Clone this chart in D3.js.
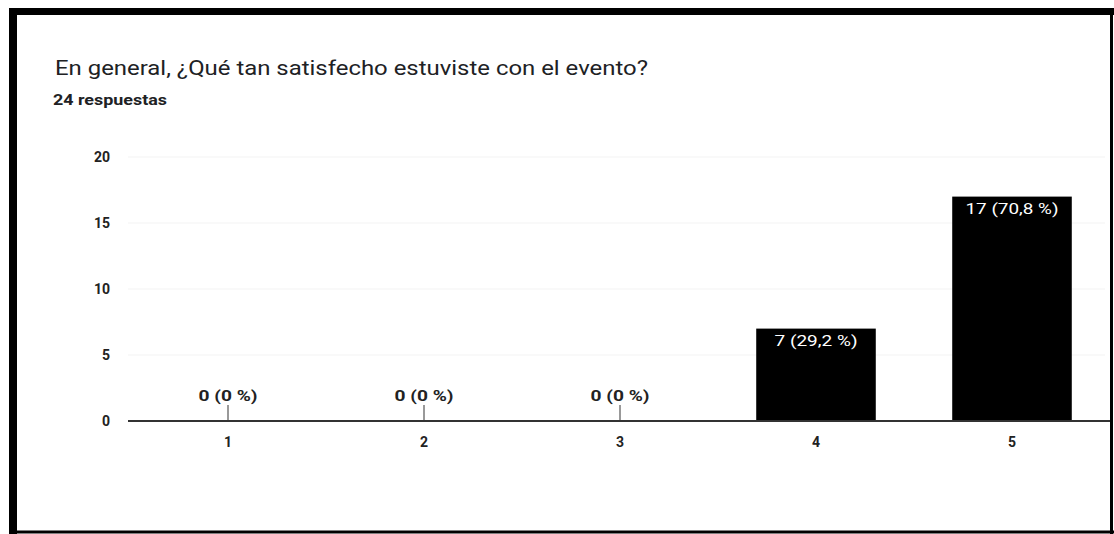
<!DOCTYPE html>
<html>
    <head>
        <meta charset="utf-8">
        <style>
        html, body {
            margin: 0px;
            background: #fff;
        }
        svg {
            display: block;
        }
        .axis text {
            font: bold 14px Roboto, sans-serif;
            fill: #222;
        }
        </style>
    </head>
    <body>
        <svg class="chart" width="1114" height="534"></svg>
        <script src="https://cdn.jsdelivr.net/npm/d3@7"></script>
        <script>
            var categories = ["1", "2", "3", "4", "5"];
            var counts = [0, 0, 0, 7, 17];
            var labels = ["0 (0 %)", "0 (0 %)", "0 (0 %)", "7 (29,2 %)", "17 (70,8 %)"];
            var yTicks = [0, 5, 10, 15, 20];

            var svg = d3.select(".chart");

            // photo frame round the screenshot
            svg.append("rect").attr("x", 9).attr("y", 8).attr("width", 8).attr("height", 526).attr("fill", "#000");
            svg.append("rect").attr("x", 9).attr("y", 8).attr("width", 1105).attr("height", 7).attr("fill", "#000");
            svg.append("line").attr("x1", 1111.5).attr("x2", 1111.5).attr("y1", 8).attr("y2", 534)
               .attr("stroke", "#000").attr("stroke-width", 3);
            svg.append("line").attr("x1", 9).attr("x2", 1114).attr("y1", 532).attr("y2", 532)
               .attr("stroke", "#000").attr("stroke-width", 3);

            // the screenshot text is stretched sideways, hence textLength
            svg.append("text").attr("x", 55).attr("y", 75)
               .style("font", "21px Roboto, sans-serif").attr("fill", "#202124")
               .attr("textLength", 593).attr("lengthAdjust", "spacingAndGlyphs")
               .text("En general, ¿Qué tan satisfecho estuviste con el evento?");
            svg.append("text").attr("x", 53).attr("y", 105)
               .style("font", "bold 14px Roboto, sans-serif").attr("fill", "#202124")
               .attr("textLength", 114).attr("lengthAdjust", "spacingAndGlyphs")
               .text("24 respuestas");

            var margin = {left: 130, right: 1110, top: 157, bottom: 421};

            var x = d3.scaleBand().domain(categories).range([margin.left, margin.right]).paddingInner(0.39).paddingOuter(0.195);
            var y = d3.scaleLinear().domain([0, 20]).range([margin.bottom, margin.top]);

            // faint gridlines
            svg.append("g").selectAll("line").data(yTicks.slice(1)).enter().append("line")
               .attr("x1", 128).attr("x2", 1105)
               .attr("y1", function(d) { return y(d); }).attr("y2", function(d) { return y(d); })
               .attr("stroke", "#f3f3f3");

            var yAxis = svg.append("g").attr("class", "y axis")
               .attr("transform", "translate(110,0)")
               .call(d3.axisLeft(y).tickValues(yTicks).tickSize(0).tickPadding(0));
            yAxis.select(".domain").remove();

            svg.selectAll(".bar").data(counts).enter().append("rect")
               .attr("class", "bar")
               .attr("x", function(d, i) { return x(categories[i]); })
               .attr("width", x.bandwidth())
               .attr("y", function(d) { return y(d); })
               .attr("height", function(d) { return y(0) - y(d); })
               .attr("fill", "#000");

            // little stems for empty bars
            svg.selectAll(".stem").data(counts).enter().filter(function(d) { return d === 0; })
               .append("line").attr("class", "stem")
               .attr("x1", function(d, i) { return x(categories[i]) + x.bandwidth() / 2; })
               .attr("x2", function(d, i) { return x(categories[i]) + x.bandwidth() / 2; })
               .attr("y1", y(0) - 16).attr("y2", y(0))
               .attr("stroke", "#777").attr("stroke-width", 1.5);

            svg.selectAll(".vlabel").data(counts).enter().append("text")
               .attr("class", "vlabel")
               .attr("x", function(d, i) { return x(categories[i]) + x.bandwidth() / 2; })
               .attr("y", function(d) { return d === 0 ? y(0) - 20 : y(d) + 17; })
               .attr("text-anchor", "middle")
               .style("font", function(d) { return d === 0 ? "bold 14px Roboto, sans-serif" : "14px Roboto, sans-serif"; })
               .attr("fill", function(d) { return d === 0 ? "#222" : "#fff"; })
               .attr("textLength", function(d) { return d === 0 ? 59 : (d < 10 ? 83 : 93); })
               .attr("lengthAdjust", "spacingAndGlyphs")
               .text(function(d, i) { return labels[i]; });

            var xAxis = svg.append("g").attr("class", "x axis")
               .attr("transform", "translate(0," + y(0) + ")")
               .call(d3.axisBottom(x).tickSize(0).tickPadding(16));
            xAxis.select(".domain").remove();

            svg.append("line").attr("x1", 128).attr("x2", 1110)
               .attr("y1", y(0)).attr("y2", y(0))
               .attr("stroke", "#333").attr("stroke-width", 2);
        </script>
    </body>
</html>
